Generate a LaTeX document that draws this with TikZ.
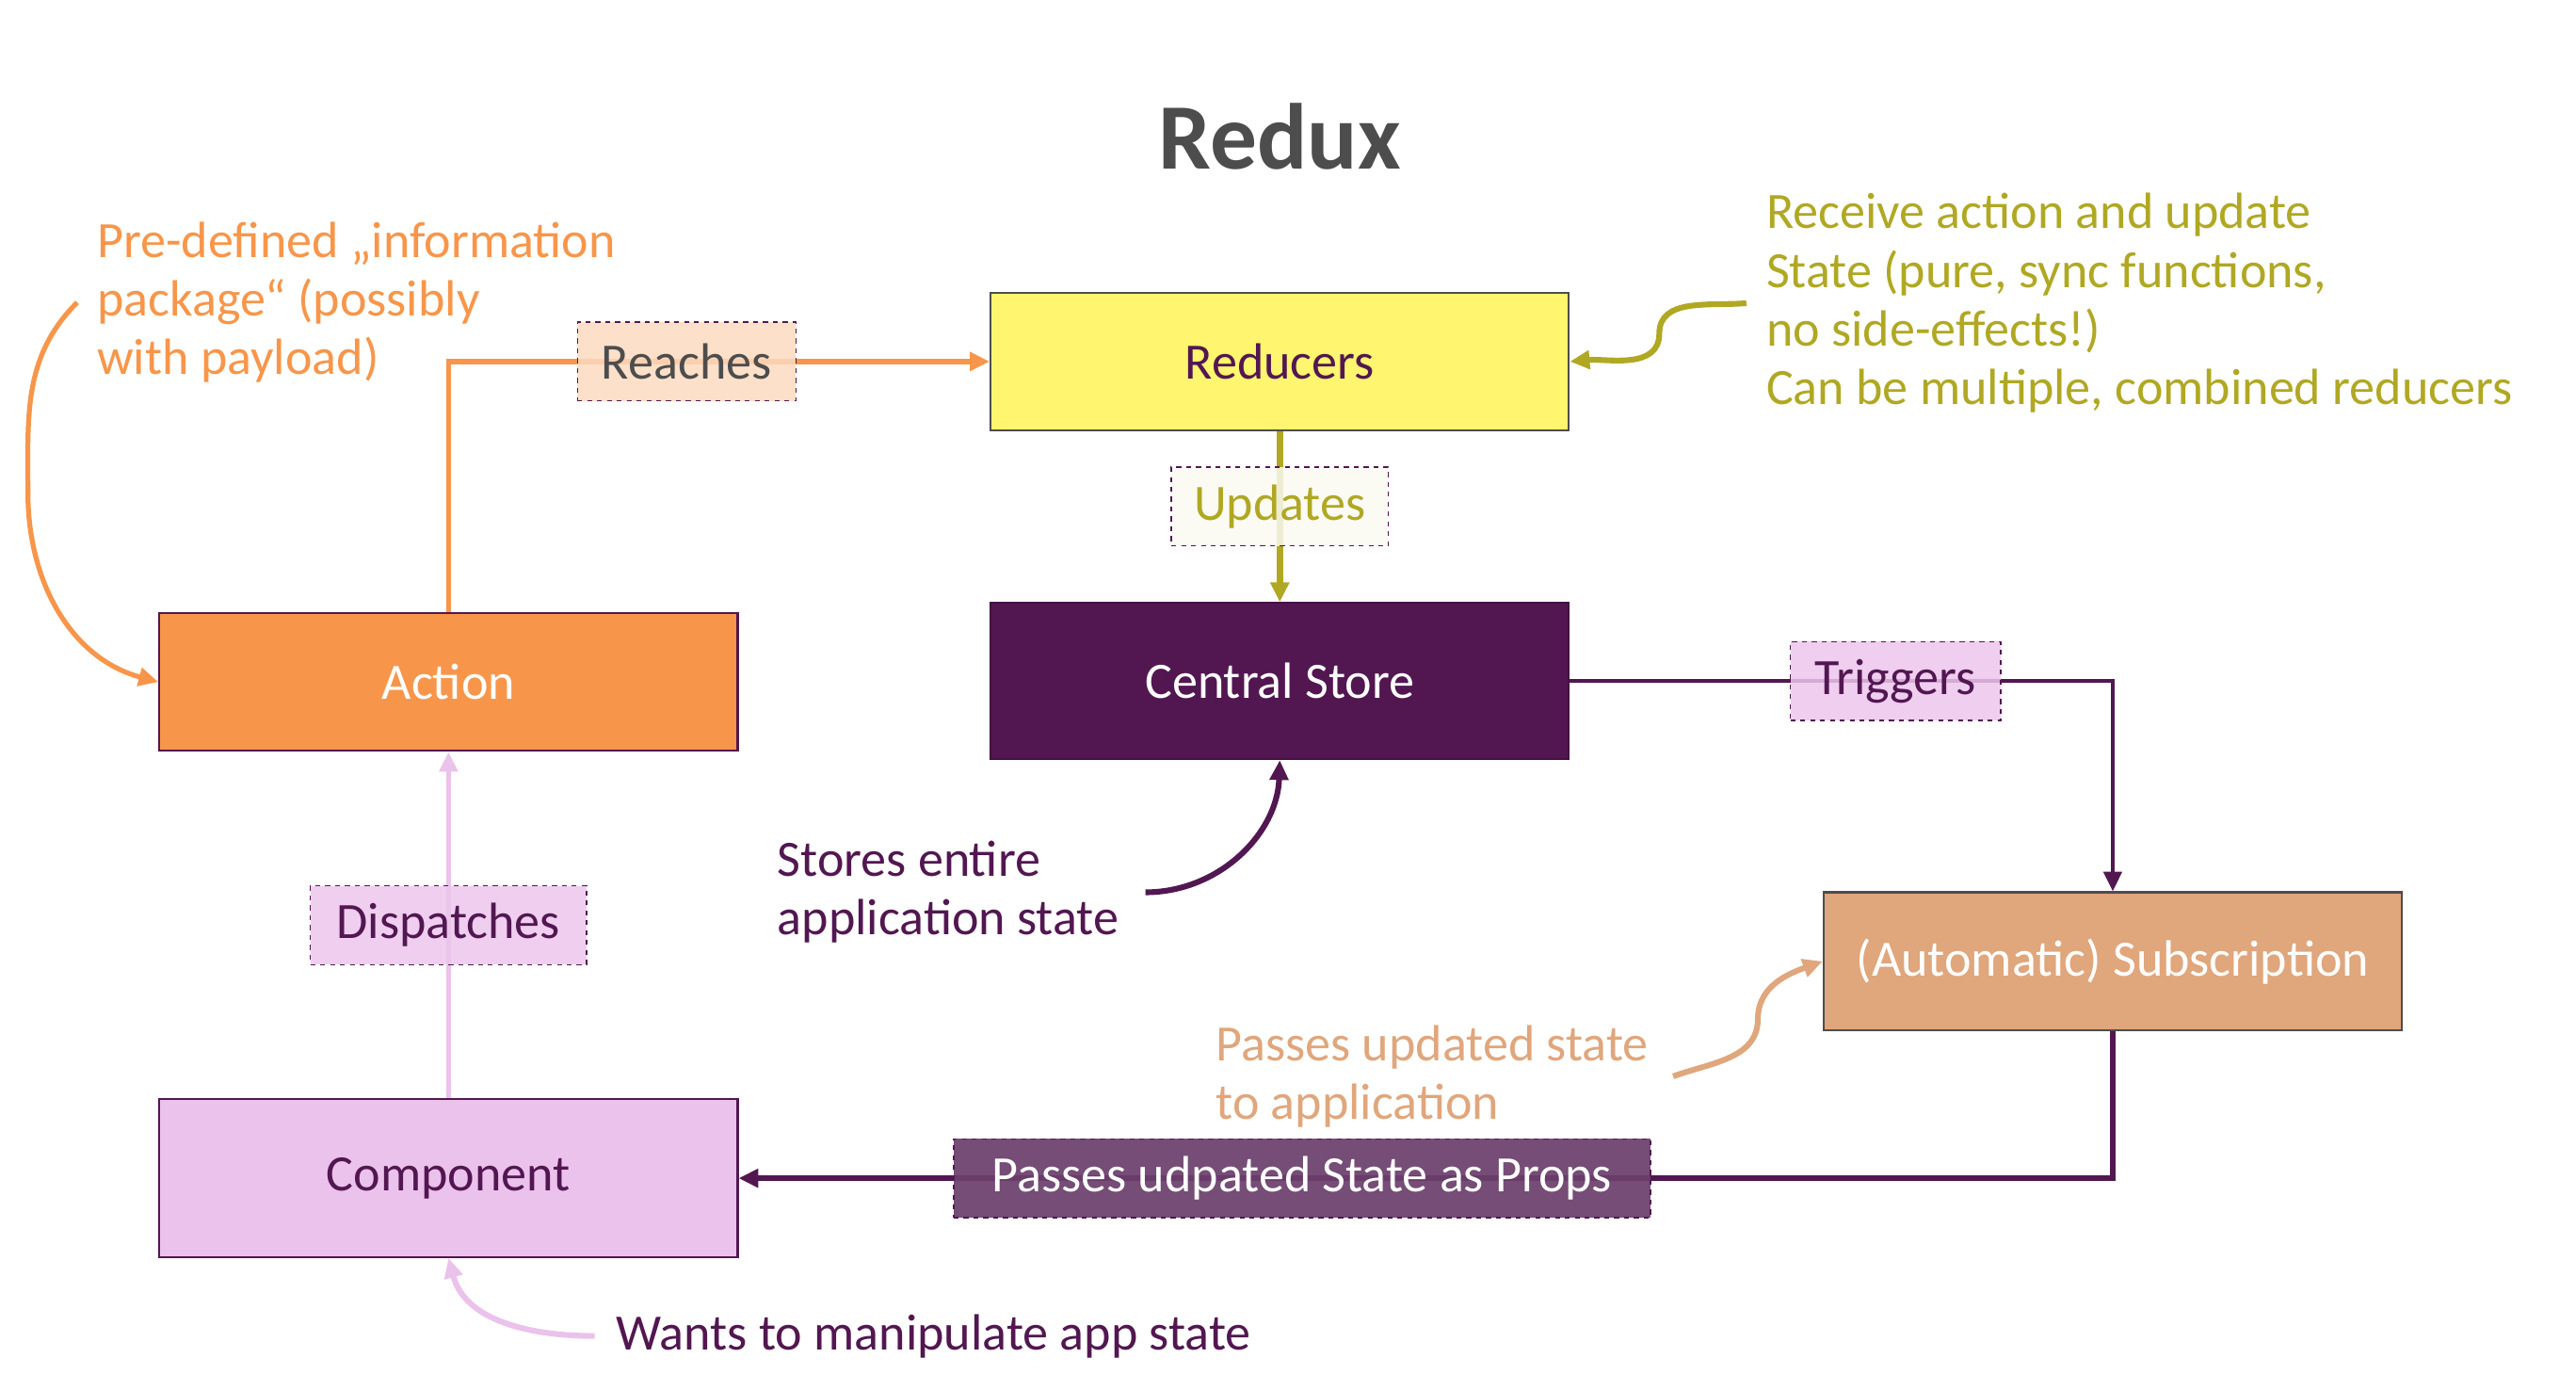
\documentclass[tikz,border=0pt]{standalone}
\usepackage{fontspec}
\setmainfont{Carlito}
\usepackage{xcolor}
\usetikzlibrary{arrows.meta}
\definecolor{actorange}{HTML}{F7964A}
\definecolor{redyellow}{HTML}{FFF56E}
\definecolor{olive}{HTML}{B0A823}
\definecolor{storepurple}{HTML}{521751}
\definecolor{comppink}{HTML}{EBC2EB}
\definecolor{subtan}{HTML}{E0A67C}
\definecolor{titlegray}{HTML}{4D4D4D}
\definecolor{propsbox}{HTML}{6B3F6C}

\begin{document}
\begin{tikzpicture}[x=1pt, y=-1pt,
    box/.style = {draw, line width=1.2pt, minimum width=352pt, minimum height=84pt,
        font=\fontsize{31}{36}\selectfont},
    tag/.style = {draw=storepurple, dashed, line width=0.8pt, fill opacity=0.85, text opacity=1,
        minimum height=48pt, inner xsep=8pt, font=\fontsize{31}{36}\selectfont},
    note/.style = {align=left, inner sep=0pt, font=\fontsize{31}{35.7}\selectfont},
    tip/.style = {-{Triangle[length=12pt, width=11pt]}}]
    \useasboundingbox (0,0) rectangle (1568,836);

    % Title
    \node[font=\bfseries\fontsize{57}{60}\selectfont, text=titlegray] (title) at (779,83) {Redux};

    % Boxes
    \node[box, fill=redyellow, draw=titlegray, text=storepurple] (reducers) at (779,220) {Reducers};
    \node[box, fill=storepurple, draw=storepurple!80!black, text=white, minimum height=95pt] (store) at (779,414.5) {Central Store};
    \node[box, fill=actorange, draw=storepurple, text=white] (action) at (273,415) {Action};
    \node[box, fill=comppink, draw=storepurple, text=storepurple, minimum height=96pt] (component) at (273,717) {Component};
    \node[box, fill=subtan, draw=titlegray, text=white] (subscr) at (1286,585) {(Automatic) Subscription};

    % Connectors with tags
    \draw[tip, actorange, line width=3pt] (action.north) |- (reducers.west)
        node[tag, pos=0.72, fill=actorange!35, text=titlegray, minimum width=133pt] (reaches) {Reaches};
    \draw[tip, olive, line width=4pt] (reducers.south) -- (store.north)
        node[tag, pos=0.44, fill=olive!6, text=olive, minimum width=132pt] (updates) {Updates};
    \draw[tip, storepurple, line width=2.5pt] (store.east) -| (subscr.north)
        node[tag, pos=0.3, fill=comppink!95!white, text=storepurple, minimum width=128pt] (triggers) {Triggers};
    \draw[tip, storepurple, line width=3pt] (subscr.south) |- (component.east)
        node[tag, pos=0.795, fill=propsbox, fill opacity=0.93, text=white, minimum width=424pt] (props) {Passes udpated State as Props};
    \draw[tip, comppink, line width=3pt] (component.north) -- (action.south)
        node[tag, pos=0.5, fill=comppink!95!white, text=storepurple, minimum width=168pt] (dispatch) {Dispatches};

    % Notes
    \node[note, anchor=west, text=actorange] (infonote) at (59,184)
        {Pre-defined „information\\package“ (possibly\\with payload)};
    \node[note, anchor=west, text=olive] (reducenote) at (1075,184.5)
        {Receive action and update\\State (pure, sync functions,\\no side-effects!)\\Can be multiple, combined reducers};
    \node[note, anchor=west, text=storepurple] (storenote) at (473,543)
        {Stores entire\\application state};
    \node[note, anchor=west, text=subtan] (passnote) at (740,655)
        {Passes updated state\\to application};
    \node[note, anchor=west, text=storepurple] (wantnote) at (375,813)
        {Wants to manipulate app state};

    % Note arrows
    \draw[tip, actorange, line width=3pt] ([xshift=-12pt]infonote.west) to[out=225, in=90] (17,300)
        to[out=270, in=165] (action.west);
    \draw[tip, olive, line width=3.5pt] ([xshift=-12pt]reducenote.west) to[out=185, in=90] (1010,203)
        to[out=270, in=5] (reducers.east);
    \draw[tip, storepurple, line width=3.5pt] ([xshift=16pt]storenote.east) to[out=0, in=268] (store.south);
    \draw[tip, subtan, line width=3.5pt] ([xshift=15pt]passnote.east) to[out=20, in=270] (1070,620)
        to[out=90, in=200] (subscr.west);
    \draw[tip, comppink, line width=3.5pt] ([xshift=-13pt]wantnote.west) to[out=180, in=285] (component.south);
\end{tikzpicture}
\end{document}
